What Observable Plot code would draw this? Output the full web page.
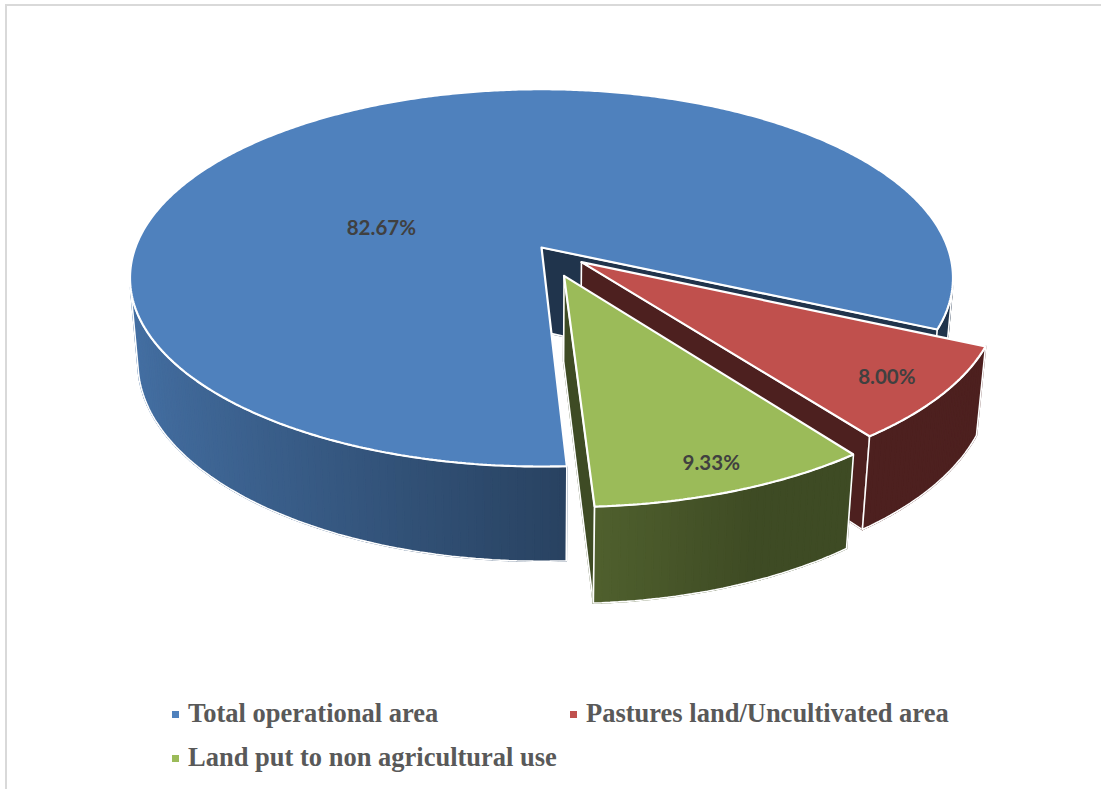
<!DOCTYPE html>
<html>
<head>
<meta charset="utf-8">
<script src="https://cdn.jsdelivr.net/npm/d3@7"></script>
<script src="https://cdn.jsdelivr.net/npm/@observablehq/plot@0.6"></script>
<style>
  html, body { margin: 0; padding: 0; background: #fff; }
  #frame { position: absolute; left: 5px; top: 4px; width: 1110px; height: 800px;
           border-left: 2px solid #d9d9d9; border-top: 2px solid #d9d9d9; box-sizing: border-box; }
  #chart { position: absolute; left: 0; top: 0; }
  #legend { position: absolute; left: 172px; top: 691px; display: grid;
            grid-template-columns: 398px auto; grid-auto-rows: 44px;
            font-family: "Liberation Serif", "Times New Roman", serif; font-weight: bold;
            font-size: 26.5px; color: #595959; }
  .item { display: flex; align-items: center; white-space: nowrap; }
  .sw { width: 7px; height: 7px; margin-right: 9px; margin-top: 2px; }
</style>
</head>
<body>
<div id="frame"></div>
<div id="chart"></div>
<div id="legend"></div>
<script>
// ---- data ----
const categories = ["Total operational area", "Pastures land/Uncultivated area", "Land put to non agricultural use"];
const shares = [82.67, 8.00, 9.33];
const valueLabels = ["82.67%", "8.00%", "9.33%"];
const colors = ["#4f81bd", "#c0504d", "#9bbb59"];

// ---- 3D pie layout parameters ----
const W = 1101, H = 690;
const firstSliceAngle = 177;          // degrees clockwise from the far side
const explode = [0, 0.125, 0.16];     // outward offset, in radius units
const thickness = 0.236;              // in radius units
const tilt = 26.9 * Math.PI / 180;    // camera elevation
const dist = 5.54;                    // camera distance, radius units
const focal = 2250;                   // px per unit at image plane
const center = [541, 247];            // pixel position of the pie centre
const labelPlace = [{r: 0.42, shift: -39}, {r: 0.86, shift: 0}, {r: 0.88, shift: 0}];

const rad = d => d * Math.PI / 180;
const sa = Math.sin(tilt), ca = Math.cos(tilt);
const cam = [0, dist * sa, dist * ca];
// project world (X right, Y up, Z toward viewer) -> normalised image coords
function project(X, Y, Z) {
  const rx = X - cam[0], ry = Y - cam[1], rz = Z - cam[2];
  const xv = rx, yv = ry * ca - rz * sa, zv = -ry * sa - rz * ca;
  return {x: xv / zv, y: yv / zv, depth: zv};
}
const dir = th => [Math.sin(rad(th)), -Math.cos(rad(th))]; // [X, Z]

// slices from shares
const total = d3.sum(shares);
let acc = firstSliceAngle;
const slices = shares.map((v, i) => {
  const a0 = acc, a1 = acc + v / total * 360; acc = a1;
  const mid = (a0 + a1) / 2, dm = dir(mid);
  return {i, a0, a1, mid, off: [dm[0] * explode[i], dm[1] * explode[i]]};
});

function shade(hex, f) {
  const c = d3.rgb(hex);
  return d3.rgb(c.r * f, c.g * f, c.b * f).formatHex();
}

// build wall units (cut faces + visible outer walls)
const units = [];
const step = 1;
for (const s of slices) {
  const [ox, oz] = s.off;
  const rim = (th, y) => { const d = dir(th); return project(ox + d[0], y, oz + d[1]); };
  const ctr = y => project(ox, y, oz);
  // cut faces
  for (const [th, sign] of [[s.a0, -1], [s.a1, 1]]) {
    const n = sign < 0 ? [-Math.cos(rad(th)), -Math.sin(rad(th))] : [Math.cos(rad(th)), Math.sin(rad(th))];
    const vis = n[0] * (cam[0] - ox) + n[1] * (cam[2] - oz) > 0;
    if (!vis) continue;
    const pts = [ctr(0), rim(th, 0), rim(th, -thickness), ctr(-thickness)];
    const d = dir(th);
    const depth = project(ox + d[0] / 2, -thickness / 2, oz + d[1] / 2).depth;
    units.push({depth, quads: [{pts, fill: shade(colors[s.i], 0.4)}], outline: pts.concat([pts[0]])});
  }
  // outer wall, visible runs
  let run = [];
  const flush = () => {
    if (run.length) {
      const top = run.map(q => q.t0).concat([run[run.length - 1].t1]);
      const bot = run.map(q => q.b0).concat([run[run.length - 1].b1]);
      const outline = top.concat(bot.reverse(), [top[0]]);
      const depth = d3.mean(run, q => q.depth);
      units.push({depth, quads: run.map(q => ({pts: [q.t0, q.t1, q.b1, q.b0], fill: q.fill})), outline});
    }
    run = [];
  };
  const n = Math.ceil((s.a1 - s.a0) / step);
  for (let k = 0; k < n; k++) {
    const t0 = s.a0 + (s.a1 - s.a0) * k / n, t1 = s.a0 + (s.a1 - s.a0) * (k + 1) / n;
    const tm = (t0 + t1) / 2, d = dir(tm);
    const vis = d[0] * (cam[0] - ox - d[0]) + d[1] * (cam[2] - oz - d[1]) > 0;
    if (!vis) { flush(); continue; }
    const f = Math.max(0.4, 0.53 - 0.34 * Math.sin(rad(tm)));
    run.push({t0: rim(t0, 0), t1: rim(t1, 0), b0: rim(t0, -thickness), b1: rim(t1, -thickness),
              depth: project(ox + d[0], -thickness / 2, oz + d[1]).depth, fill: shade(colors[s.i], f)});
  }
  flush();
}
units.sort((a, b) => b.depth - a.depth);

// top faces
const tops = slices.map(s => {
  const [ox, oz] = s.off;
  const pts = [project(ox, 0, oz)];
  const n = Math.ceil((s.a1 - s.a0) / 0.5);
  for (let k = 0; k <= n; k++) {
    const th = s.a0 + (s.a1 - s.a0) * k / n, d = dir(th);
    pts.push(project(ox + d[0], 0, oz + d[1]));
  }
  pts.push(pts[0]);
  return pts.map(p => ({x: p.x, y: p.y, fill: colors[s.i]}));
});

// labels
const labelRows = slices.map(s => {
  const lp = labelPlace[s.i];
  const d = dir(s.mid + lp.shift);
  const p = project(s.off[0] + d[0] * lp.r, 0, s.off[1] + d[1] * lp.r);
  return {x: p.x, y: p.y, text: valueLabels[s.i]};
});

// marks
const marks = [];
for (const u of units) {
  const rows = [];
  u.quads.forEach((q, qi) => q.pts.concat([q.pts[0]]).forEach(p => rows.push({x: p.x, y: p.y, z: qi, fill: q.fill})));
  marks.push(Plot.line(rows, {x: "x", y: "y", z: "z", fill: "fill", stroke: "fill", strokeWidth: 1.6, curve: "linear"}));
  marks.push(Plot.line(u.outline, {x: "x", y: "y", stroke: "#ffffff", strokeWidth: 1.6, strokeLinejoin: "miter"}));
}
for (const t of tops) {
  marks.push(Plot.line(t, {x: "x", y: "y", fill: "fill", stroke: "#ffffff", strokeWidth: 2.2, strokeLinejoin: "miter"}));
}
marks.push(Plot.text(labelRows, {x: "x", y: "y", dy: 3, text: "text", fill: "#404040",
  fontSize: 20.5, fontWeight: "bold", fontFamily: "Lato, 'Open Sans', sans-serif"}));

const chart = Plot.plot({
  width: W, height: H, margin: 0,
  x: {domain: [-center[0] / focal, (W - center[0]) / focal], range: [0, W], axis: null},
  y: {domain: [center[1] / focal, (center[1] - H) / focal], range: [0, H], axis: null},
  color: {type: "identity"},
  style: {background: "transparent", overflow: "visible"},
  marks
});
document.getElementById("chart").appendChild(chart);

// legend
const legend = document.getElementById("legend");
categories.forEach((c, i) => {
  const it = document.createElement("div");
  it.className = "item";
  it.innerHTML = `<span class="sw" style="background:${colors[i]}"></span><span>${c}</span>`;
  legend.appendChild(it);
});
</script>
</body>
</html>
